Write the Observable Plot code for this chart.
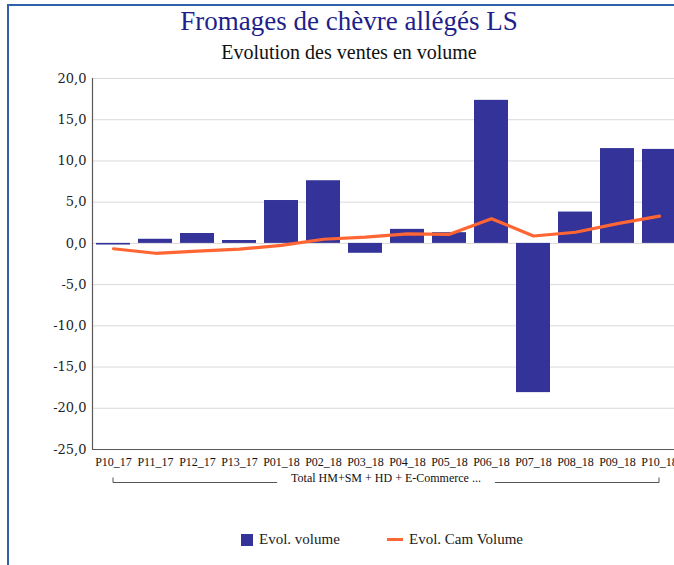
<!DOCTYPE html>
<html><head><meta charset="utf-8">
<script src="https://cdn.jsdelivr.net/npm/d3@7"></script>
<script src="https://cdn.jsdelivr.net/npm/@observablehq/plot@0.6"></script>
<style>
body{margin:0;overflow:hidden;background:#fff}
#root{position:relative;width:674px;height:565px;overflow:hidden;background:#fff}
#frame{position:absolute;left:7px;top:4px;width:800px;height:700px;border:2px solid #2f62a8;box-sizing:border-box}
#title{position:absolute;left:0;width:698px;top:8px;text-align:center;font-family:"Liberation Serif";font-size:27px;line-height:27px;color:#1f1f8a;white-space:nowrap}
#subtitle{position:absolute;left:0;width:698px;top:42px;text-align:center;font-family:"Liberation Serif";font-size:20px;line-height:20px;color:#111;white-space:nowrap}
#chart{position:absolute;left:0;top:65px;width:690px}
#chart svg{max-width:none !important}
#chart svg g[aria-label="x-axis tick label"], #chart svg g[aria-label="x-axis tick label"] text{font-family:"Liberation Serif" !important;font-size:12px}
#chart svg g[aria-label="y-axis tick label"], #chart svg g[aria-label="y-axis tick label"] text{font-family:"DejaVu Serif" !important;font-size:13px}
#legend{position:absolute;top:531px;left:241px;font-family:"Liberation Serif";font-size:15px;color:#222;white-space:nowrap;height:16px}
.lg{position:absolute;top:0;display:flex;align-items:center;height:17px}
.sw-bar{width:12px;height:12px;background:#333399;margin-right:6px}
.sw-line{width:16px;height:3px;background:#ff6633;margin-right:6px}
</style>
</head><body>
<div id="root">
  <div id="frame"></div>
  <div id="title"></div>
  <div id="subtitle"></div>
  <div id="chart"></div>
  <div id="legend"></div>
</div>
<script>
const titleText = "Fromages de chèvre allégés LS";
const subtitleText = "Evolution des ventes en volume";
const periods = ["P10_17","P11_17","P12_17","P13_17","P01_18","P02_18","P03_18","P04_18","P05_18","P06_18","P07_18","P08_18","P09_18","P10_18"];
const evolVolume = [-0.2, 0.5, 1.2, 0.35, 5.2, 7.6, -1.2, 1.7, 1.3, 17.35, -18.1, 3.8, 11.5, 11.4];
const evolCamVolume = [-0.65, -1.2, -0.95, -0.7, -0.25, 0.5, 0.75, 1.15, 1.1, 3.0, 0.9, 1.35, 2.4, 3.3];
const yTicks = [20, 15, 10, 5, 0, -5, -10, -15, -20, -25];
const groupLabel = "Total HM+SM + HD + E-Commerce ...";
const seriesNames = ["Evol. volume", "Evol. Cam Volume"];

document.getElementById("title").textContent = titleText;
document.getElementById("subtitle").textContent = subtitleText;

const data = periods.map((p, i) => ({period: p, vol: evolVolume[i], cam: evolCamVolume[i]}));
const fmt = d => d.toFixed(1).replace(".", ",");

const plot = Plot.plot({
  width: 690, height: 429,
  marginTop: 13, marginLeft: 92, marginRight: 9, marginBottom: 45,
  x: {domain: periods, paddingInner: 0.19, paddingOuter: 0.095, label: null},
  y: {domain: [-25, 20], label: null},
  style: {fontFamily: "'Liberation Serif', serif", background: "transparent", overflow: "visible", maxWidth: "none"},
  marks: [
    Plot.gridY(yTicks, {stroke: "#d9d9d9", strokeOpacity: 1}),
    Plot.barY(data, {x: "period", y: "vol", fill: "#333399"}),
    Plot.line(data, {x: "period", y: "cam", stroke: "#ff6633", strokeWidth: 3.2}),
    Plot.ruleY([-25], {stroke: "#595959", strokeWidth: 1.2}),
    Plot.axisX({tickSize: 0, tickPadding: 8, fontSize: 12, fill: "#111", label: null}),
    Plot.axisY(yTicks, {tickSize: 0, tickPadding: 6, tickFormat: fmt, fontSize: 13, fill: "#222", label: null})
  ]
});
document.getElementById("chart").appendChild(plot);

// left axis line and group bracket using the plot's own scales
const xs = plot.scale("x"), ys = plot.scale("y");
const svg = d3.select(plot);
const left = xs.range[0];
svg.append("line").attr("x1", left + 0.5).attr("x2", left + 0.5)
  .attr("y1", ys.apply(20)).attr("y2", ys.apply(-25))
  .attr("stroke", "#595959").attr("stroke-width", 1.2);

const c0 = xs.apply(periods[0]) + xs.bandwidth / 2;
const c1 = xs.apply(periods[periods.length - 1]) + xs.bandwidth / 2;
const by = ys.apply(-25) + 33.5;
const mid = (c0 + c1) / 2;
const g = svg.append("g");
const t = g.append("text").attr("x", mid).attr("y", by - 1).attr("text-anchor", "middle")
  .attr("font-family", "Liberation Serif").attr("font-size", 12).attr("fill", "#111").text(groupLabel);
const tw = t.node().getComputedTextLength();
const gap = 14;
g.append("path").attr("fill", "none").attr("stroke", "#555").attr("stroke-width", 1)
  .attr("d", `M${c0},${by - 5}V${by}H${mid - tw / 2 - gap}M${mid + tw / 2 + gap},${by}H${c1}V${by - 5}`);

// legend
const lg = document.getElementById("legend");
lg.innerHTML = `<div class="lg" style="left:0"><div class="sw-bar"></div><span>${seriesNames[0]}</span></div>` +
  `<div class="lg" style="left:146px"><div class="sw-line"></div><span>${seriesNames[1]}</span></div>`;
</script>
</body></html>
